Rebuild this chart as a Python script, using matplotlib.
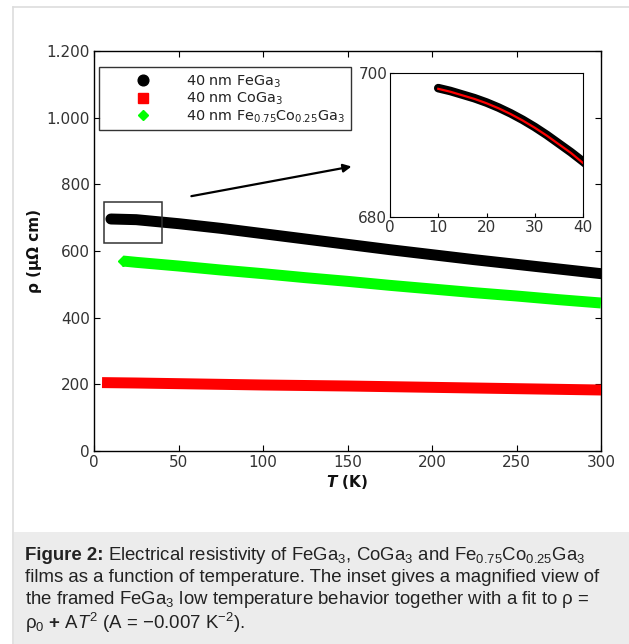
import matplotlib
matplotlib.use("Agg")
import matplotlib.pyplot as plt
from matplotlib.lines import Line2D
from matplotlib.patches import Rectangle

# values
T_fe = [10, 25, 50, 75, 100, 125, 150, 175, 200, 225, 250, 275, 300]
rho_fe = [696, 694, 682, 668, 652, 636, 620, 604, 589, 574, 560, 546, 532]

T_co = [8, 25, 50, 75, 100, 125, 150, 175, 200, 225, 250, 275, 300]
rho_co = [205, 204, 202, 200, 198, 196.5, 195, 193, 191, 189, 187, 185, 183]

T_feco = [17, 25, 50, 75, 100, 125, 150, 175, 200, 225, 250, 275, 300]
rho_feco = [570, 566, 555, 543, 532, 520, 509, 497, 486, 475, 465, 454, 444]

# inset: low temperature FeGa3 and the fit
T_in = [10, 12.5, 15, 17.5, 20, 22.5, 25, 27.5, 30, 32.5, 35, 37.5, 40, 42]
rho_in = [697.9, 697.5, 697.0, 696.5, 695.9, 695.2, 694.4, 693.5, 692.5, 691.4,
          690.2, 689.0, 687.7, 686.6]
T_fit = [10, 12.5, 15, 17.5, 20, 22.5, 25, 27.5, 30, 32.5, 35, 37.5, 40]
rho_fit = [697.8, 697.4, 696.9, 696.4, 695.8, 695.1, 694.3, 693.4, 692.4, 691.3,
           690.1, 688.9, 687.5]

labels = [r"40 nm FeGa$_3$", r"40 nm CoGa$_3$", r"40 nm Fe$_{0.75}$Co$_{0.25}$Ga$_3$"]
colors = ["black", "#ff0000", "#00ff00"]

xticks = [0, 50, 100, 150, 200, 250, 300]
yticks = [0, 200, 400, 600, 800, 1000, 1200]
ytick_labels = ["0", "200", "400", "600", "800", "1.000", "1.200"]

cap_bold = "Figure 2:"
caption = [
    r"Electrical resistivity of FeGa$_3$, CoGa$_3$ and Fe$_{0.75}$Co$_{0.25}$Ga$_3$",
    "films as a function of temperature. The inset gives a magnified view of",
    r"the framed FeGa$_3$ low temperature behavior together with a fit to ρ =",
    r"ρ$_0$ $\mathbf{+}$ A$\mathit{T}^2$ (A = −0.007 K$^{−2}$).",
]

plt.rcParams["mathtext.fontset"] = "dejavusans"
plt.rcParams["mathtext.rm"] = "Liberation Sans"
plt.rcParams["mathtext.it"] = "Liberation Sans:italic"
plt.rcParams["mathtext.bf"] = "Liberation Sans:bold"

W, H = 629, 644
fig = plt.figure(figsize=(W / 100, H / 100), dpi=100)
fig.patch.set_facecolor("white")

# page frame and caption box
fig.add_artist(Line2D([13 / W, 13 / W], [0, 1 - 7 / H], color="#dddddd", lw=1.2))
fig.add_artist(Line2D([13 / W, 1], [1 - 7 / H, 1 - 7 / H], color="#dddddd", lw=1.2))
fig.add_artist(Rectangle((13.5 / W, 0), 1, 1 - 532 / H, transform=fig.transFigure,
                         facecolor="#ececec", edgecolor="none"))

tickc = "#333333"

ax = fig.add_axes([94 / W, 1 - 451 / H, 507 / W, 400 / H])
lw = 7.9
ax.plot(T_fe, rho_fe, color=colors[0], lw=lw, solid_capstyle="round", zorder=3)
ax.plot(T_co, rho_co, color=colors[1], lw=lw, solid_capstyle="projecting", zorder=3)
ax.plot(T_feco, rho_feco, color=colors[2], lw=lw, solid_capstyle="butt", zorder=3,
        marker="D", ms=5.6, markevery=[0], mec=colors[2], mfc=colors[2])

ax.add_patch(Rectangle((6, 623), 34, 125, fill=False, edgecolor="#333333", lw=1.1, zorder=4))
ax.annotate("", xy=(154, 855), xytext=(56, 763),
            arrowprops=dict(arrowstyle="-|>", color="black", lw=1.6, mutation_scale=12))

ax.set_xlim(0, 300)
ax.set_ylim(0, 1200)
ax.set_xticks(xticks)
ax.set_yticks(yticks)
ax.set_yticklabels(ytick_labels)
ax.tick_params(direction="in", length=4, top=True, right=True, labelsize=11,
               labelcolor=tickc, color="black", pad=3)
for s in ax.spines.values():
    s.set_linewidth(1.0)
ax.set_xlabel(r"$\mathbfit{T}$ (K)", fontsize=11, fontweight="bold", color="#111111", labelpad=2,
              math_fontfamily="dejavusans")
ax.set_ylabel("ρ (μΩ cm)", fontsize=11, fontweight="bold", color="#111111", labelpad=3)

handles = [
    Line2D([], [], ls="none", marker="o", ms=7.7, color=colors[0]),
    Line2D([], [], ls="none", marker="s", ms=7.5, color=colors[1]),
    Line2D([], [], ls="none", marker="D", ms=5.4, color=colors[2]),
]
leg = ax.legend(handles, labels, loc="upper left", bbox_to_anchor=(0.0105, 0.959),
                fontsize=10.4, frameon=True, fancybox=False, edgecolor="black",
                borderaxespad=0, borderpad=0.4, handlelength=5.2, handletextpad=0.4,
                labelspacing=0.08)
leg.get_frame().set_linewidth(1.0)
for t in leg.get_texts():
    t.set_color("#222222")
    t.set_math_fontfamily("dejavusans")

# inset
ax2 = fig.add_axes([390 / W, 1 - 217 / H, 193 / W, 144 / H])
ax2.plot(T_in, rho_in, color="black", lw=6.2, solid_capstyle="round")
ax2.plot(T_fit, rho_fit, color="#ff0000", lw=1.6)
ax2.set_xlim(0, 40)
ax2.set_ylim(680, 700)
ax2.set_xticks([0, 10, 20, 30, 40])
ax2.set_yticks([680, 700])
ax2.tick_params(direction="in", length=3, labelsize=11, labelcolor=tickc, pad=2)

# caption
y0 = [555, 578, 600, 623]
fs = 13.4
tb = fig.text(25 / W, 1 - y0[0] / H, cap_bold, fontsize=fs, family="Liberation Sans",
              fontweight="bold", color="#222222", va="center", ha="left")
fig.canvas.draw()
x_after = tb.get_window_extent().x1 + 4
for i, (line, yy) in enumerate(zip(caption, y0)):
    x = x_after / W if i == 0 else 25 / W
    fig.text(x, 1 - yy / H, line, fontsize=fs, family="Liberation Sans",
             color="#222222", va="center", ha="left", math_fontfamily="custom")

fig.savefig("out.png", dpi=100)
